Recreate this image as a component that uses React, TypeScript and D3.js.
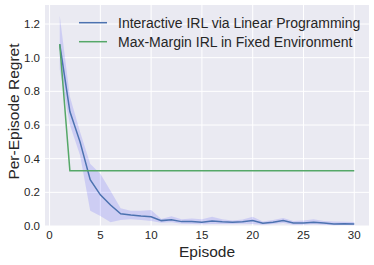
import React, {useEffect, useRef} from 'react';
import * as d3 from "d3";

// episodes 1..30
const episodes = d3.range(1, 31)

// Interactive IRL via Linear Programming (mean, band upper/lower)
const lpMean = [1.08, 0.68, 0.50, 0.275, 0.185, 0.125, 0.073, 0.065, 0.059, 0.055, 0.032, 0.037, 0.026, 0.026, 0.022, 0.03, 0.025, 0.022, 0.025, 0.032, 0.016, 0.022, 0.032, 0.018, 0.018, 0.022, 0.018, 0.012, 0.014, 0.012]
const lpUpper = [1.25, 0.77, 0.56, 0.37, 0.31, 0.21, 0.105, 0.09, 0.09, 0.095, 0.042, 0.058, 0.04, 0.045, 0.04, 0.055, 0.04, 0.032, 0.038, 0.055, 0.026, 0.035, 0.048, 0.03, 0.032, 0.04, 0.03, 0.026, 0.025, 0.024]
const lpLower = [0.93, 0.6, 0.42, 0.09, 0.06, 0.022, 0.035, 0.04, 0.035, 0.03, 0.02, 0.022, 0.014, 0.012, 0.01, 0.012, 0.012, 0.012, 0.014, 0.012, 0.008, 0.012, 0.018, 0.008, 0.008, 0.01, 0.008, 0.004, 0.006, 0.004]

// Max-Margin IRL in Fixed Environment
const mmValues = [1.08, ...Array(29).fill(0.328)]

const seriesNames = ["Interactive IRL via Linear Programming", "Max-Margin IRL in Fixed Environment"]
const seriesColors = ["#4C72B0", "#55A868"]

const xTicks = [0, 5, 10, 15, 20, 25, 30]
const yTicks = [0, 0.2, 0.4, 0.6, 0.8, 1.0, 1.2]

function App(){
    const ref = useRef<SVGSVGElement>(null)
    const W = 374, H = 265
    const margin = {top: 5, right: 5, bottom: 39, left: 45}
    const width = W - margin.left - margin.right
    const height = H - margin.top - margin.bottom

    useEffect(() => {
        const svg = d3.select(ref.current)
        svg.selectAll("*").remove()
        const font = "'Liberation Sans', Arial, sans-serif"

        const chart = svg.append("g")
            .attr("transform", `translate(${margin.left},${margin.top})`)

        const x = d3.scaleLinear().domain([-0.45, 31.45]).range([0, width])
        const y = d3.scaleLinear().domain([0, 1.313]).range([height, 0])

        chart.append("rect").attr("width", width).attr("height", height).attr("fill", "#EAEAF2")

        // grid
        chart.selectAll(".gx").data(xTicks).enter().append("line")
            .attr("x1", d => x(d)).attr("x2", d => x(d))
            .attr("y1", 0).attr("y2", height)
            .style("stroke", "white").style("stroke-width", 1)
        chart.selectAll(".gy").data(yTicks).enter().append("line")
            .attr("x1", 0).attr("x2", width)
            .attr("y1", d => y(d)).attr("y2", d => y(d))
            .style("stroke", "white").style("stroke-width", 1)

        // tick labels
        chart.selectAll(".tx").data(xTicks).enter().append("text")
            .attr("x", d => x(d)).attr("y", height + 13)
            .style("font-family", font).style("font-size", "11.5px").style("fill", "#262626")
            .style("text-anchor", "middle")
            .text(d => d)
        chart.selectAll(".ty").data(yTicks).enter().append("text")
            .attr("x", -5).attr("y", d => y(d) + 4)
            .style("font-family", font).style("font-size", "11.5px").style("fill", "#262626")
            .style("text-anchor", "end")
            .text(d => d.toFixed(1))

        // axis titles
        chart.append("text")
            .attr("x", width / 2).attr("y", height + 31)
            .style("font-family", font).style("font-size", "15.5px").style("fill", "#262626")
            .style("text-anchor", "middle")
            .text("Episode")
        chart.append("text")
            .attr("transform", `translate(${-margin.left + 19},${y(0.68)}) rotate(-90)`)
            .style("font-family", font).style("font-size", "15.5px").style("fill", "#262626")
            .style("text-anchor", "middle")
            .text("Per-Episode Regret")

        // band
        const area = d3.area<number>()
            .x((d, i) => x(episodes[i]))
            .y0((d, i) => y(lpLower[i]))
            .y1(d => y(d))
        chart.append("path").datum(lpUpper)
            .attr("d", area)
            .style("fill", "blue").style("opacity", 0.12)

        const line = d3.line<number>()
            .x((d, i) => x(episodes[i]))
            .y(d => y(d))
        chart.append("path").datum(lpMean)
            .attr("d", line).style("fill", "none")
            .style("stroke", seriesColors[0]).style("stroke-width", 1.5)
        chart.append("path").datum(mmValues)
            .attr("d", line).style("fill", "none")
            .style("stroke", seriesColors[1]).style("stroke-width", 1.5)

        // legend
        const legend = chart.selectAll(".lg").data(seriesNames).enter().append("g")
            .attr("transform", (d, i) => `translate(34,${17.7 + i * 19})`)
        legend.append("line")
            .attr("x1", 0).attr("x2", 28).attr("y1", 0).attr("y2", 0)
            .style("stroke", (d, i) => seriesColors[i]).style("stroke-width", 1.5)
        legend.append("text")
            .attr("x", 39).attr("y", 5)
            .style("font-family", font).style("font-size", "14px").style("fill", "#262626")
            .text(d => d)
    }, [])

    return (
        <svg ref={ref} width={W} height={H} style={{position: "absolute", left: 0, top: 0}}></svg>
    )
}

export default App;
